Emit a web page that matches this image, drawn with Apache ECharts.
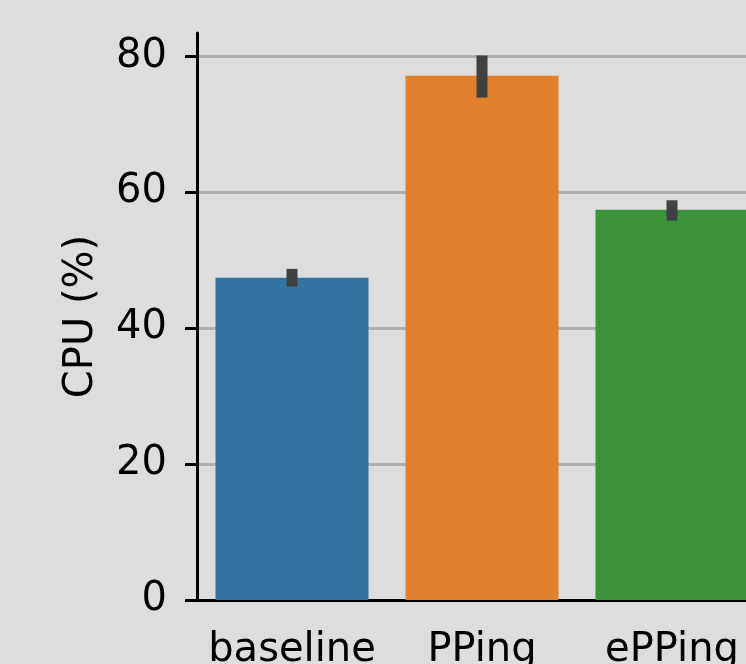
<!DOCTYPE html>
<html>
<head>
<meta charset="utf-8">
<script src="https://cdn.jsdelivr.net/npm/echarts@6/dist/echarts.min.js"></script>
<style>
    html, body { margin: 0; padding: 0; background: #dddddd; }
    #chart { width: 746px; height: 664px; }
</style>
</head>
<body>
<div id="chart"></div>
<script>
const categories = ['baseline', 'PPing', 'ePPing']
const cpuMean = [47.4, 77.1, 57.4]
const cpuLow = [46.1, 73.9, 55.8]
const cpuHigh = [48.7, 80.1, 58.8]
const barColors = ['#3274a1', '#e1812c', '#3a923a']
const yTicks = [0, 20, 40, 60, 80]

const fontFamily = 'DejaVu Sans'

const chart = echarts.init(document.getElementById('chart'))

const errData = categories.map((c, i) => [i, cpuLow[i], cpuHigh[i]])

chart.setOption({
    backgroundColor: '#dddddd',
    animation: false,
    grid: {
        left: 197,
        top: 33,
        right: -21,
        bottom: 64,
        outerBoundsMode: 'none'
    },
    xAxis: {
        type: 'category',
        data: categories,
        axisLine: {
            lineStyle: { color: '#000', width: 3 }
        },
        axisTick: {
            alignWithLabel: true,
            length: 12,
            lineStyle: { color: '#000', width: 3 }
        },
        axisLabel: {
            interval: 0,
            color: '#000',
            fontSize: 40,
            fontFamily: fontFamily,
            margin: 31
        }
    },
    yAxis: {
        type: 'value',
        min: 0,
        max: 83.4,
        name: 'CPU (%)',
        nameLocation: 'middle',
        nameRotate: 90,
        nameGap: 95,
        nameTextStyle: {
            color: '#000',
            fontSize: 40,
            fontFamily: fontFamily
        },
        axisLine: {
            show: true,
            lineStyle: { color: '#000', width: 3 }
        },
        axisTick: {
            show: true,
            length: 12,
            customValues: yTicks,
            lineStyle: { color: '#000', width: 3 }
        },
        axisLabel: {
            color: '#000',
            fontSize: 40,
            fontFamily: fontFamily,
            margin: 30,
            customValues: yTicks
        },
        splitLine: {
            show: true,
            lineStyle: { color: '#b0b0b0', width: 3 }
        }
    },
    series: [
        {
            type: 'bar',
            barWidth: 153,
            data: cpuMean.map((v, i) => ({
                value: v,
                itemStyle: { color: barColors[i] }
            })),
            z: 2
        },
        {
            type: 'custom',
            data: errData,
            z: 3,
            renderItem(params, api) {
                const top = api.coord([api.value(0), api.value(2)])
                const bottom = api.coord([api.value(0), api.value(1)])
                return {
                    type: 'rect',
                    shape: {
                        x: top[0] - 5.5,
                        y: top[1],
                        width: 11,
                        height: bottom[1] - top[1]
                    },
                    style: { fill: '#404040' }
                }
            }
        }
    ]
})
</script>
</body>
</html>
